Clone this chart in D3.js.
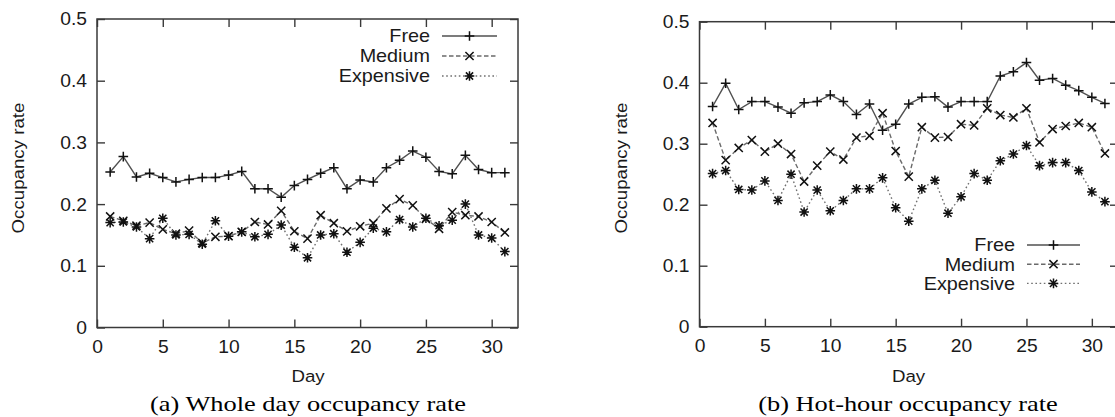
<!DOCTYPE html>
<html>
<head>
<meta charset="utf-8">
<script src="https://cdn.jsdelivr.net/npm/d3@7"></script>
<style>
  html, body { margin: 0; padding: 0; background: #fff; }
  svg { display: block; }
  .sans { font-family: "Liberation Sans", Arial, Helvetica, sans-serif; fill: #1a1a1a; }
  .serif { font-family: "Liberation Serif", "Times New Roman", serif; fill: #000; }
</style>
</head>
<body>
<svg id="chart" width="1115" height="417"></svg>
<script>
// Days of the month
const days = [1, 2, 3, 4, 5, 6, 7, 8, 9, 10, 11, 12, 13, 14, 15, 16,
              17, 18, 19, 20, 21, 22, 23, 24, 25, 26, 27, 28, 29, 30, 31];

// (a) Whole day occupancy rate
const wholeFree = [0.252, 0.277, 0.244, 0.250, 0.243, 0.236, 0.240, 0.243, 0.243, 0.247, 0.253,
                   0.225, 0.225, 0.211, 0.230, 0.240, 0.250, 0.259, 0.225, 0.239, 0.236, 0.259,
                   0.271, 0.286, 0.276, 0.253, 0.249, 0.279, 0.256, 0.251, 0.251];
const wholeMedium = [0.180, 0.173, 0.165, 0.170, 0.159, 0.152, 0.157, 0.137, 0.147, 0.148, 0.155,
                     0.171, 0.167, 0.189, 0.156, 0.144, 0.182, 0.169, 0.156, 0.164, 0.169, 0.193,
                     0.208, 0.198, 0.176, 0.160, 0.187, 0.182, 0.180, 0.171, 0.154];
const wholeExpensive = [0.170, 0.171, 0.163, 0.144, 0.177, 0.150, 0.151, 0.135, 0.173, 0.148, 0.155,
                        0.147, 0.151, 0.166, 0.130, 0.113, 0.150, 0.152, 0.122, 0.138, 0.161, 0.155,
                        0.175, 0.163, 0.177, 0.165, 0.174, 0.200, 0.150, 0.145, 0.123];

// (b) Hot-hour occupancy rate
const hotFree = [0.361, 0.399, 0.356, 0.369, 0.369, 0.360, 0.350, 0.367, 0.369, 0.380, 0.369,
                 0.348, 0.365, 0.322, 0.332, 0.365, 0.376, 0.377, 0.360, 0.369, 0.369, 0.369,
                 0.411, 0.418, 0.433, 0.404, 0.407, 0.396, 0.387, 0.376, 0.366];
const hotMedium = [0.334, 0.273, 0.293, 0.306, 0.287, 0.300, 0.283, 0.238, 0.264, 0.287, 0.274,
                   0.310, 0.313, 0.350, 0.288, 0.246, 0.327, 0.310, 0.311, 0.332, 0.330, 0.358,
                   0.347, 0.343, 0.358, 0.302, 0.324, 0.329, 0.334, 0.327, 0.284];
const hotExpensive = [0.251, 0.256, 0.225, 0.224, 0.239, 0.207, 0.250, 0.188, 0.224, 0.190, 0.207,
                      0.226, 0.226, 0.244, 0.195, 0.173, 0.226, 0.240, 0.186, 0.213, 0.251, 0.240,
                      0.272, 0.283, 0.297, 0.264, 0.269, 0.269, 0.256, 0.221, 0.205];

const seriesNames = ["Free", "Medium", "Expensive"];
const xTicks = [0, 5, 10, 15, 20, 25, 30];
const yTicks = [0, 0.1, 0.2, 0.3, 0.4, 0.5];
const xDomain = [0, 32];
const yDomain = [0, 0.5];
const xTitle = "Day";
const yTitle = "Occupancy rate";
const captions = ["(a) Whole day occupancy rate", "(b) Hot-hour occupancy rate"];

// Per-series look: line dash and point symbol
const styles = {
  Free:      { dash: null,      marker: "plus",     stroke: "#505050" },
  Medium:    { dash: "4.5,2.5", marker: "cross",    stroke: "#6a6a6a" },
  Expensive: { dash: "1.6,2.6", marker: "asterisk", stroke: "#707070" }
};

const TEXT_SX = 1.1;   // horizontal widening of the sans labels
const svg = d3.select("#chart");

function markerPath(type, r) {
  const p = d3.path();
  if (type === "plus" || type === "asterisk") {
    p.moveTo(-r, 0); p.lineTo(r, 0);
    p.moveTo(0, -r); p.lineTo(0, r);
  }
  if (type === "cross" || type === "asterisk") {
    const d = type === "asterisk" ? r * 0.75 : r * 0.85;
    p.moveTo(-d, -d); p.lineTo(d, d);
    p.moveTo(-d, d); p.lineTo(d, -d);
  }
  return p.toString();
}

function drawPanel(cfg) {
  const g = svg.append("g");
  const x = d3.scaleLinear().domain(xDomain).range([cfg.x0, cfg.x1]);
  const y = d3.scaleLinear().domain(yDomain).range([cfg.yb, cfg.yt]);

  const fmt = d => d === 0 ? "0" : d3.format(".1f")(d);

  // axes with inward ticks on all four sides
  const bottom = g.append("g").attr("transform", `translate(0,${cfg.yb})`)
    .call(d3.axisBottom(x).tickValues(xTicks).tickSize(-8).tickPadding(13).tickFormat(d3.format("d")));
  const top = g.append("g").attr("transform", `translate(0,${cfg.yt})`)
    .call(d3.axisTop(x).tickValues(xTicks).tickSize(-8).tickFormat(""));
  const left = g.append("g").attr("transform", `translate(${cfg.x0},0)`)
    .call(d3.axisLeft(y).tickValues(yTicks).tickSize(-8).tickPadding(10).tickFormat(fmt));
  const right = g.append("g").attr("transform", `translate(${cfg.x1},0)`)
    .call(d3.axisRight(y).tickValues(yTicks).tickSize(-8).tickFormat(""));

  [bottom, top, left, right].forEach(a => {
    a.selectAll(".domain").remove();
    a.selectAll(".tick line").attr("stroke", "#3a3a3a").attr("stroke-width", 1.4);
    a.selectAll(".tick text").attr("class", "sans")
      .attr("font-size", 17.5).attr("fill", "#1f1f1f")
      .attr("transform", `scale(${TEXT_SX},1)`);
  });
  left.selectAll(".tick text").attr("x", -10 / TEXT_SX).attr("dy", "0.34em");

  // plot frame
  g.append("rect")
    .attr("x", cfg.x0).attr("y", cfg.yt)
    .attr("width", cfg.x1 - cfg.x0).attr("height", cfg.yb - cfg.yt)
    .attr("fill", "none").attr("stroke", "#3a3a3a").attr("stroke-width", 1.5);

  // series
  const plot = g.append("g");
  seriesNames.forEach((name, i) => {
    const vals = cfg.series[i];
    const st = styles[name];
    const pts = days.map((d, k) => [d, vals[k]]);
    plot.append("path")
      .attr("d", d3.line().x(p => x(p[0])).y(p => y(p[1]))(pts))
      .attr("fill", "none").attr("stroke", st.stroke).attr("stroke-width", 1.4)
      .attr("stroke-dasharray", st.dash);
    plot.append("g").selectAll("path").data(pts).join("path")
      .attr("transform", p => `translate(${x(p[0])},${y(p[1])})`)
      .attr("d", markerPath(st.marker, 4.8))
      .attr("stroke", "#111").attr("stroke-width", 1.5).attr("fill", "none");
  });

  // legend
  const lg = g.append("g");
  seriesNames.forEach((name, i) => {
    const st = styles[name];
    const cy = cfg.legend.y + i * cfg.legend.dy;
    lg.append("text").attr("class", "sans")
      .attr("transform", `translate(${cfg.legend.tx},${cy}) scale(${TEXT_SX},1)`)
      .attr("dy", "0.36em").attr("text-anchor", "end").attr("font-size", 18)
      .text(name);
    lg.append("line")
      .attr("x1", cfg.legend.l0).attr("x2", cfg.legend.l1)
      .attr("y1", cy).attr("y2", cy)
      .attr("stroke", st.stroke).attr("stroke-width", 1.4)
      .attr("stroke-dasharray", st.dash);
    lg.append("path")
      .attr("transform", `translate(${(cfg.legend.l0 + cfg.legend.l1) / 2},${cy})`)
      .attr("d", markerPath(st.marker, 4.8))
      .attr("stroke", "#111").attr("stroke-width", 1.5).attr("fill", "none");
  });

  // axis titles
  g.append("text").attr("class", "sans")
    .attr("transform", `translate(${cfg.xTitleX},381.5) scale(${TEXT_SX},1)`)
    .attr("text-anchor", "middle").attr("font-size", 17).text(xTitle);
  g.append("text").attr("class", "sans")
    .attr("transform", `translate(${cfg.yTitleX},168) rotate(-90) scale(${TEXT_SX},1)`)
    .attr("text-anchor", "middle").attr("font-size", 17).text(yTitle);

  // caption
  g.append("text").attr("class", "serif")
    .attr("transform", `translate(${cfg.capX},410.5) scale(1.2,1)`)
    .attr("text-anchor", "middle").attr("font-size", 22).text(cfg.caption);
}

drawPanel({
  x0: 97, x1: 518, yb: 327.5, yt: 19,
  series: [wholeFree, wholeMedium, wholeExpensive],
  legend: { tx: 430, l0: 442, l1: 497, y: 36, dy: 20 },
  xTitleX: 308, yTitleX: 24, capX: 308,
  caption: captions[0]
});

drawPanel({
  x0: 699.5, x1: 1118, yb: 326.7, yt: 21.7,
  series: [hotFree, hotMedium, hotExpensive],
  legend: { tx: 1015, l0: 1027, l1: 1080, y: 245, dy: 19.2 },
  xTitleX: 908.5, yTitleX: 627, capX: 908,
  caption: captions[1]
});
</script>
</body>
</html>
